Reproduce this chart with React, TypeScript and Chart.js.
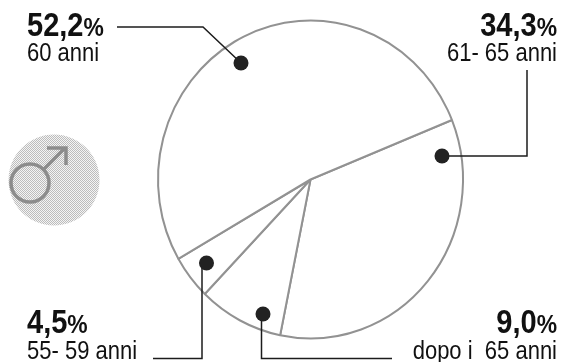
import React, { useEffect, useRef } from "react";
import { Chart, registerables } from "chart.js";

Chart.register(...registerables);

const categories = ["61- 65 anni", "dopo i  65 anni", "55- 59 anni", "60 anni"];
const shares = [34.3, 9.0, 4.5, 52.2];
const shareLabels = ["34,3", "9,0", "4,5", "52,2"];

const FONT = '"Liberation Sans", Arial, sans-serif';
const INK = "#1c1c1c";
const RIM = "#929292";
const CONDENSE = 0.88;

type Callout = {
  i: number;
  align: "left" | "right";
  x: number;
  pctY: number;
  nameY: number;
  dot: [number, number];
  path: [number, number][];
};

const callouts: Callout[] = [
  { i: 3, align: "left", x: 27, pctY: 36, nameY: 61, dot: [241, 63], path: [[117, 27], [203, 27], [241, 63]] },
  { i: 0, align: "right", x: 557, pctY: 36, nameY: 61, dot: [442, 156], path: [[527, 70], [527, 156], [442, 156]] },
  { i: 2, align: "left", x: 27, pctY: 333, nameY: 359, dot: [206.5, 263], path: [[153, 358.5], [202, 358.5], [202, 263]] },
  { i: 1, align: "right", x: 557, pctY: 333, nameY: 359, dot: [263, 314], path: [[392, 358.5], [261.5, 358.5], [261.5, 314]] },
];

const ellipse = {
  id: "ellipse",
  beforeDatasetsDraw(c: Chart) {
    const { ctx } = c;
    const arc: any = c.getDatasetMeta(0).data[0];
    const sy = 160 / 153.5;
    ctx.save();
    ctx.translate(arc.x, arc.y);
    ctx.scale(1, sy);
    ctx.translate(-arc.x, -arc.y);
  },
  afterDatasetsDraw(c: Chart) {
    c.ctx.restore();
  },
};

function halftone(ctx: CanvasRenderingContext2D) {
  const t = document.createElement("canvas");
  t.width = 2;
  t.height = 2;
  const g = t.getContext("2d")!;
  g.fillStyle = "#f4f4f4";
  g.fillRect(0, 0, 2, 2);
  g.fillStyle = "#bcbcbc";
  g.fillRect(0, 0, 1, 1);
  g.fillRect(1, 1, 1, 1);
  return ctx.createPattern(t, "repeat")!;
}

function narrowText(
  ctx: CanvasRenderingContext2D,
  text: string,
  font: string,
  x: number,
  y: number
) {
  ctx.save();
  ctx.font = font;
  ctx.textAlign = "left";
  ctx.translate(x, y);
  ctx.scale(CONDENSE, 1);
  ctx.fillText(text, 0, 0);
  ctx.restore();
}

function narrowWidth(ctx: CanvasRenderingContext2D, text: string, font: string) {
  ctx.save();
  ctx.font = font;
  const w = ctx.measureText(text).width * CONDENSE;
  ctx.restore();
  return w;
}

const annotations = {
  id: "annotations",
  afterDraw(c: Chart) {
    const { ctx } = c;
    ctx.save();

    // Male symbol badge
    ctx.fillStyle = halftone(ctx);
    ctx.beginPath();
    ctx.arc(54, 180, 45.5, 0, Math.PI * 2);
    ctx.fill();
    ctx.strokeStyle = "#8c8c8c";
    ctx.lineWidth = 3.5;
    ctx.beginPath();
    ctx.arc(30, 183, 19, 0, Math.PI * 2);
    ctx.stroke();
    ctx.beginPath();
    ctx.moveTo(44, 169);
    ctx.lineTo(65, 148);
    ctx.moveTo(47, 148);
    ctx.lineTo(66, 148);
    ctx.lineTo(66, 165);
    ctx.stroke();

    const pctFont = `bold 33px ${FONT}`;
    const signFont = `bold 26px ${FONT}`;
    const nameFont = `25px ${FONT}`;

    callouts.forEach((o) => {
      ctx.strokeStyle = INK;
      ctx.lineWidth = 1.5;
      ctx.beginPath();
      o.path.forEach(([x, y], k) => (k ? ctx.lineTo(x, y) : ctx.moveTo(x, y)));
      ctx.stroke();
      ctx.fillStyle = "#222";
      ctx.beginPath();
      ctx.arc(o.dot[0], o.dot[1], 7.5, 0, Math.PI * 2);
      ctx.fill();

      ctx.textBaseline = "alphabetic";
      ctx.fillStyle = "#111";
      const pct = shareLabels[o.i];
      const w1 = narrowWidth(ctx, pct, pctFont);
      const w2 = narrowWidth(ctx, "%", signFont);
      const x0 = o.align === "left" ? o.x : o.x - w1 - w2;
      narrowText(ctx, pct, pctFont, x0, o.pctY);
      narrowText(ctx, "%", signFont, x0 + w1, o.pctY);
      const name = categories[o.i];
      const nw = narrowWidth(ctx, name, nameFont);
      narrowText(ctx, name, nameFont, o.align === "left" ? o.x : o.x - nw, o.nameY);
    });
    ctx.restore();
  },
};

export default function App() {
  const ref = useRef<HTMLCanvasElement>(null);
  useEffect(() => {
    const chart = new Chart(ref.current!, {
      type: "doughnut",
      data: {
        labels: categories,
        datasets: [
          {
            data: shares,
            backgroundColor: "#ffffff",
            borderColor: RIM,
            borderWidth: 2,
            borderAlign: "center",
          },
        ],
      },
      options: {
        responsive: false,
        animation: false,
        cutout: 0,
        rotation: 68,
        layout: { padding: { left: 156, right: 96, top: 26, bottom: 29 } },
        plugins: { legend: { display: false }, tooltip: { enabled: false } },
      },
      plugins: [ellipse, annotations],
    });
    return () => chart.destroy();
  }, []);
  return (
    <canvas
      ref={ref}
      width={561}
      height={362}
      style={{ position: "fixed", left: 0, top: 0, width: 561, height: 362 }}
    />
  );
}
